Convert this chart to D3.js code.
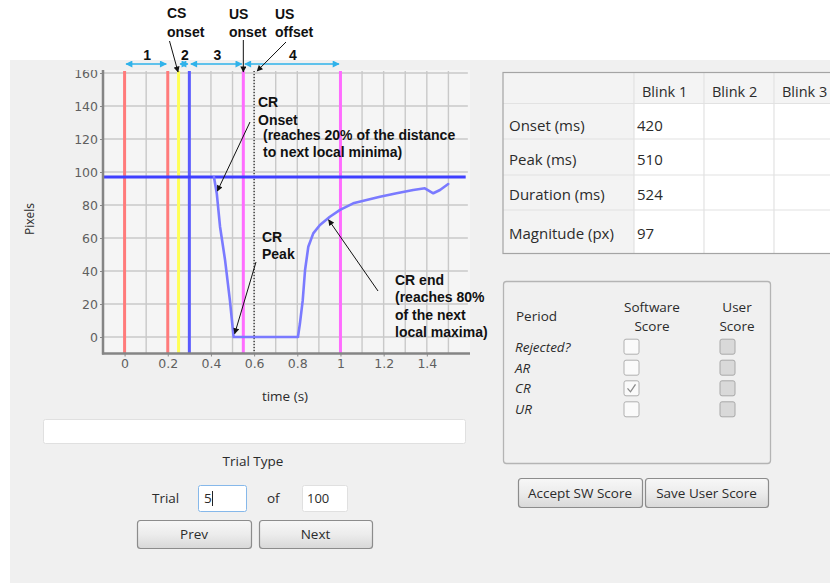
<!DOCTYPE html>
<html>
<head>
<meta charset="utf-8">
<script src="https://cdn.jsdelivr.net/npm/d3@7"></script>
<style>
  html, body { margin: 0; padding: 0; background: #ffffff; }
  svg { display: block; }
  .ui { font-family: "Open Sans", "Noto Sans", sans-serif; fill: #2b2b2b; }
  .note { font-family: "Liberation Sans", Arial, sans-serif; font-weight: bold; font-size: 14px; fill: #111; }
  .tick text { font-family: "DejaVu Sans", Verdana, sans-serif; font-size: 12.5px; fill: #5f5f5f; }
</style>
</head>
<body>
<svg id="app" width="830" height="583"></svg>
<script>
// ---- eyelid trace for trial 5 (time in s, eyelid position in pixels) ----
const traceTime   = [0.414, 0.427, 0.442, 0.465, 0.488, 0.505, 0.803, 0.812, 0.825, 0.836, 0.851, 0.874, 0.905, 0.951, 0.998, 1.059, 1.121, 1.183, 1.26, 1.337, 1.391, 1.43, 1.461, 1.499];
const tracePixels = [97, 87, 67, 47, 22, 0, 0, 8, 22, 40.6, 54.7, 62.8, 67.9, 72.9, 77, 81, 83, 85, 87.1, 89.1, 90.1, 87.1, 89.1, 92.7];

// ---- event markers (s) ----
const markerNames = ["trial start", "baseline end", "CS onset", "CS end", "US onset", "window end"];
const markerTimes = [0, 0.2, 0.25, 0.3, 0.55, 1.0];
const usOffsetTime = 0.6;

// ---- scoring periods (s) ----
const periodLabels = ["1", "2", "3", "4"];
const periodStart  = [0, 0.25, 0.3, 0.55];
const periodEnd    = [0.2, 0.3, 0.55, 1.0];

// ---- axes ----
const xTickValues = [0, 0.2, 0.4, 0.6, 0.8, 1, 1.2, 1.4];
const yTickValues = [0, 20, 40, 60, 80, 100, 120, 140, 160];

// ---- blink table ----
const blinkColumns = ["Blink 1", "Blink 2", "Blink 3"];
const measureNames = ["Onset (ms)", "Peak (ms)", "Duration (ms)", "Magnitude (px)"];
const blink1Values = [420, 510, 524, 97];

// ---- score panel ----
const scorePeriods  = ["Rejected?", "AR", "CR", "UR"];
const softwareScore = [false, false, true, false];

const trialNumber = 5;
const trialCount = 100;

// ====================================================================
const svg = d3.select("#app");

// window background
svg.append("rect").attr("x", 10).attr("y", 60).attr("width", 820).attr("height", 523).attr("fill", "#f0f0f0");

// arrow markers
const defs = svg.append("defs");
defs.append("marker").attr("id", "blackHead").attr("viewBox", "0 0 10 10")
  .attr("refX", 9).attr("refY", 5).attr("markerWidth", 7).attr("markerHeight", 6)
  .attr("markerUnits", "userSpaceOnUse").attr("orient", "auto")
  .append("path").attr("d", "M0,0 L10,5 L0,10 z").attr("fill", "#111");
defs.append("marker").attr("id", "cyanHead").attr("viewBox", "0 0 10 10")
  .attr("refX", 9).attr("refY", 5).attr("markerWidth", 8).attr("markerHeight", 7)
  .attr("markerUnits", "userSpaceOnUse").attr("orient", "auto-start-reverse")
  .append("path").attr("d", "M0,0 L10,5 L0,10 z").attr("fill", "#2eb2ea");
defs.append("clipPath").attr("id", "plotClip")
  .append("rect").attr("x", 0).attr("y", 69).attr("width", 480).attr("height", 320);
defs.append("clipPath").attr("id", "canvasClip")
  .append("rect").attr("x", 0).attr("y", 70).attr("width", 480).attr("height", 330);

// ---- scales ----
const x = d3.scaleLinear().domain([-0.1, 1.6]).range([103, 470]);
const y = d3.scaleLinear().domain([-10, 160]).range([353.5, 73]);

const plot = svg.append("g").attr("clip-path", "url(#plotClip)");
plot.append("rect").attr("x", x(-0.1)).attr("y", y(160) - 3)
  .attr("width", x(1.6) - x(-0.1)).attr("height", y(-10) - y(160) + 3).attr("fill", "#f5f5f5");

// grid
const gridX = d3.range(0, 16).map(i => i / 10);
plot.append("g").selectAll("line").data(gridX).join("line")
  .attr("x1", d => x(d)).attr("x2", d => x(d)).attr("y1", y(160) - 2).attr("y2", y(-10))
  .attr("stroke", "#c9c9c9").attr("stroke-width", 1.4);
plot.append("g").selectAll("line").data(yTickValues).join("line")
  .attr("x1", x(-0.1)).attr("x2", x(1.59)).attr("y1", d => y(d)).attr("y2", d => y(d))
  .attr("stroke", "#c9c9c9").attr("stroke-width", 1.4);

// event markers
const markerColor = {
  "trial start": "#ff7b7b", "baseline end": "#ff7b7b", "CS onset": "#ffff55",
  "CS end": "#5a5aff", "US onset": "#ff6cff", "window end": "#ff6cff"
};
plot.append("g").selectAll("line").data(markerTimes).join("line")
  .attr("x1", d => x(d)).attr("x2", d => x(d)).attr("y1", y(160) - 2).attr("y2", y(-10))
  .attr("stroke", (d, i) => markerColor[markerNames[i]]).attr("stroke-width", 3);

// US offset (dotted)
plot.append("line").attr("x1", x(usOffsetTime)).attr("x2", x(usOffsetTime))
  .attr("y1", y(160) - 2).attr("y2", y(-10))
  .attr("stroke", "#222").attr("stroke-width", 1.2).attr("stroke-dasharray", "1,2");

// baseline magnitude
plot.append("line").attr("x1", x(-0.1)).attr("x2", x(1.58))
  .attr("y1", y(blink1Values[3])).attr("y2", y(blink1Values[3]))
  .attr("stroke", "#3f3fff").attr("stroke-width", 3);

// trace
const trace = traceTime.map((t, i) => [t, tracePixels[i]]);
plot.append("path").datum(trace)
  .attr("d", d3.line().x(d => x(d[0])).y(d => y(d[1])))
  .attr("fill", "none").attr("stroke", "#7a7aff").attr("stroke-width", 2.6)
  .attr("stroke-linejoin", "round").attr("stroke-linecap", "round");

// axes
const yAxis = svg.append("g").attr("clip-path", "url(#canvasClip)")
  .append("g").attr("transform", `translate(${x(-0.1)},0)`)
  .call(d3.axisLeft(y).tickValues(yTickValues).tickSize(3).tickPadding(2).tickSizeOuter(0));
const xAxis = svg.append("g").attr("transform", `translate(0,${y(-10)})`)
  .call(d3.axisBottom(x).tickValues(xTickValues).tickFormat(d3.format("~g")).tickSize(3).tickPadding(3).tickSizeOuter(0));
[yAxis, xAxis].forEach(a => {
  a.select(".domain").remove();
  a.selectAll(".tick line").attr("stroke", "#8a8a8a");
});
svg.append("line").attr("x1", x(-0.1)).attr("x2", x(-0.1)).attr("y1", 70).attr("y2", y(-10) + 1)
  .attr("stroke", "#858585").attr("stroke-width", 2.5);
svg.append("line").attr("x1", x(-0.1) - 1).attr("x2", x(1.6)).attr("y1", y(-10)).attr("y2", y(-10))
  .attr("stroke", "#858585").attr("stroke-width", 2.5);

svg.append("text").attr("class", "ui").attr("x", 285).attr("y", 401)
  .attr("text-anchor", "middle").attr("font-size", 13.5).attr("fill", "#505050").text("time (s)");
svg.append("text").attr("class", "ui").attr("transform", "translate(34,219) rotate(-90)")
  .attr("text-anchor", "middle").attr("font-size", 12).attr("fill", "#505050").text("Pixels");

// ---- period arrows and labels ----
const periodY = 64;
svg.append("g").selectAll("line").data(periodLabels).join("line")
  .attr("x1", (d, i) => x(periodStart[i]) + 1.5).attr("x2", (d, i) => x(periodEnd[i]) - 1.5)
  .attr("y1", periodY).attr("y2", periodY)
  .attr("stroke", "#2eb2ea").attr("stroke-width", 1.6)
  .attr("marker-start", "url(#cyanHead)").attr("marker-end", "url(#cyanHead)");
svg.append("g").selectAll("text").data(periodLabels).join("text")
  .attr("class", "note")
  .attr("x", (d, i) => (x(periodStart[i]) + x(periodEnd[i])) / 2 + 1)
  .attr("y", 60).attr("text-anchor", "middle").text(d => d);

// ---- event labels ----
function note(lines, x0, y0, lh) {
  const t = svg.append("text").attr("class", "note");
  lines.forEach((s, i) => t.append("tspan").attr("x", x0).attr("y", y0 + i * lh).text(s));
}
function pointer(x1, y1, x2, y2) {
  svg.append("line").attr("x1", x1).attr("y1", y1).attr("x2", x2).attr("y2", y2)
    .attr("stroke", "#111").attr("stroke-width", 1).attr("marker-end", "url(#blackHead)");
}
note(["CS", "onset"], 167, 18, 19);
pointer(169.5, 41, x(markerTimes[2]) - 0.5, 72);
note(["US", "onset"], 229, 19, 18);
pointer(x(markerTimes[4]), 40, x(markerTimes[4]), 72);
note(["US", "offset"], 275, 19, 18);
pointer(286, 42, x(usOffsetTime) + 3, 71);

note(["CR", "Onset"], 258, 107, 18);
svg.append("text").attr("class", "note").selectAll("tspan")
  .data(["(reaches 20% of the distance", "to next local minima)"]).join("tspan")
  .attr("x", 263).attr("y", (d, i) => 140 + i * 17).text(d => d);
pointer(250, 122, x(0.43), y(88.5));

note(["CR", "Peak"], 262, 242, 17);
pointer(256, 262, x(0.51), y(2));

note(["CR end", "(reaches 80%", "of the next", "local maxima)"], 395, 285, 17.4);
pointer(378, 291, x(0.945), y(71));

// ---- blink table ----
const tbl = svg.append("g");
const colX = [503, 634, 704, 774, 844];
const rowY = [72.5, 103.5, 139, 175, 210, 253.5];
tbl.append("rect").attr("x", colX[0]).attr("y", rowY[0]).attr("width", 340).attr("height", rowY[5] - rowY[0])
  .attr("fill", "#ffffff");
// header row and row header column
tbl.append("rect").attr("x", colX[0]).attr("y", rowY[0]).attr("width", 340).attr("height", rowY[1] - rowY[0])
  .attr("fill", "#f4f4f4");
tbl.append("rect").attr("x", colX[0]).attr("y", rowY[0]).attr("width", colX[1] - colX[0]).attr("height", rowY[5] - rowY[0])
  .attr("fill", "#f3f3f3");
tbl.append("g").selectAll("line").data(rowY.slice(1, 5)).join("line")
  .attr("x1", colX[0]).attr("x2", 844).attr("y1", d => d).attr("y2", d => d)
  .attr("stroke", "#e2e2e2").attr("stroke-width", 1.2);
tbl.append("g").selectAll("line").data(colX.slice(1, 4)).join("line")
  .attr("x1", d => d).attr("x2", d => d).attr("y1", rowY[0]).attr("y2", rowY[5])
  .attr("stroke", "#e2e2e2").attr("stroke-width", 1.2);
tbl.append("rect").attr("x", colX[0]).attr("y", rowY[0]).attr("width", 340).attr("height", rowY[5] - rowY[0])
  .attr("fill", "none").attr("stroke", "#a4a4a4").attr("stroke-width", 1.2);
tbl.append("g").selectAll("text").data(blinkColumns).join("text")
  .attr("class", "ui").attr("font-size", 14.5)
  .attr("x", (d, i) => colX[i + 1] + 8).attr("y", 97).text(d => d);
const rowBase = [130.5, 164.5, 199.5, 238.5];
tbl.append("g").selectAll("text").data(measureNames).join("text")
  .attr("class", "ui").attr("font-size", 15)
  .attr("x", 509).attr("y", (d, i) => rowBase[i]).text(d => d);
tbl.append("g").selectAll("text").data(blink1Values).join("text")
  .attr("class", "ui").attr("font-size", 15)
  .attr("x", 637).attr("y", (d, i) => rowBase[i]).text(d => d);

// ---- score group ----
const grp = svg.append("g");
grp.append("rect").attr("x", 503.5).attr("y", 281.5).attr("width", 267).attr("height", 182)
  .attr("rx", 3).attr("fill", "none").attr("stroke", "#b4b4b4").attr("stroke-width", 1.3);
grp.append("text").attr("class", "ui").attr("font-size", 13.5).attr("x", 516).attr("y", 321).text("Period");
grp.append("text").attr("class", "ui").attr("font-size", 13.5).attr("text-anchor", "middle")
  .selectAll("tspan").data(["Software", "Score"]).join("tspan")
  .attr("x", 652).attr("y", (d, i) => 312 + i * 18.5).text(d => d);
grp.append("text").attr("class", "ui").attr("font-size", 13.5).attr("text-anchor", "middle")
  .selectAll("tspan").data(["User", "Score"]).join("tspan")
  .attr("x", 737).attr("y", (d, i) => 312 + i * 18.5).text(d => d);
const scoreY = [346.7, 367.7, 388.3, 409.3];
grp.append("g").selectAll("text").data(scorePeriods).join("text")
  .attr("class", "ui").attr("font-size", 13.5).attr("font-style", "italic")
  .attr("x", 515).attr("y", (d, i) => scoreY[i] + 5).text(d => d);
grp.append("g").selectAll("rect").data(softwareScore).join("rect")
  .attr("x", 624).attr("y", (d, i) => scoreY[i] - 7.5).attr("width", 15).attr("height", 15).attr("rx", 2)
  .attr("fill", "#fafafa").attr("stroke", "#b0b0b0");
grp.append("g").selectAll("path").data(softwareScore.map((v, i) => [v, i]).filter(d => d[0])).join("path")
  .attr("d", d => `M627.5,${scoreY[d[1]]} L630.5,${scoreY[d[1]] + 3.5} L635.5,${scoreY[d[1]] - 4}`)
  .attr("fill", "none").attr("stroke", "#8a8a8a").attr("stroke-width", 1.3);
grp.append("g").selectAll("rect").data(scorePeriods).join("rect")
  .attr("x", 720).attr("y", (d, i) => scoreY[i] - 7.5).attr("width", 15).attr("height", 15).attr("rx", 2)
  .attr("fill", "#d9d9d9").attr("stroke", "#a8a8a8");

// ---- buttons ----
function button(x0, y0, w, h, label) {
  const g = svg.append("g");
  g.append("rect").attr("x", x0 + 0.5).attr("y", y0 + 0.5).attr("width", w).attr("height", h).attr("rx", 3)
    .attr("fill", "url(#btnGrad)").attr("stroke", "#8c8c8c").attr("stroke-width", 1.2);
  g.append("text").attr("class", "ui").attr("font-size", 13.5).attr("text-anchor", "middle")
    .attr("x", x0 + w / 2).attr("y", y0 + h / 2 + 5).text(label);
}
const grad = defs.append("linearGradient").attr("id", "btnGrad").attr("x1", 0).attr("x2", 0).attr("y1", 0).attr("y2", 1);
grad.append("stop").attr("offset", "0%").attr("stop-color", "#f7f7f7");
grad.append("stop").attr("offset", "50%").attr("stop-color", "#ececec");
grad.append("stop").attr("offset", "100%").attr("stop-color", "#d8d8d8");

button(518, 478, 124, 29, "Accept SW Score");
button(645, 478, 123, 29, "Save User Score");

// ---- trial navigation ----
svg.append("rect").attr("x", 43.5).attr("y", 419.5).attr("width", 422).attr("height", 24).attr("rx", 2)
  .attr("fill", "#ffffff").attr("stroke", "#e0e0e0");
svg.append("text").attr("class", "ui").attr("font-size", 13.5).attr("text-anchor", "middle")
  .attr("x", 253).attr("y", 466).text("Trial Type");
svg.append("text").attr("class", "ui").attr("font-size", 13.5).attr("x", 152).attr("y", 503).text("Trial");
svg.append("rect").attr("x", 198.5).attr("y", 485.5).attr("width", 48).attr("height", 26).attr("rx", 2)
  .attr("fill", "#ffffff").attr("stroke", "#86b8ea");
svg.append("text").attr("class", "ui").attr("font-size", 13.5).attr("x", 204).attr("y", 503).text(trialNumber);
svg.append("line").attr("x1", 212.5).attr("x2", 212.5).attr("y1", 491).attr("y2", 506).attr("stroke", "#222");
svg.append("text").attr("class", "ui").attr("font-size", 13.5).attr("x", 267).attr("y", 503).text("of");
svg.append("rect").attr("x", 302.5).attr("y", 485.5).attr("width", 45).attr("height", 26).attr("rx", 2)
  .attr("fill", "#ffffff").attr("stroke", "#e0e0e0");
svg.append("text").attr("class", "ui").attr("font-size", 13).attr("x", 307).attr("y", 503).text(trialCount);
button(137, 520, 114, 28, "Prev");
button(259, 520, 113, 28, "Next");
</script>
</body>
</html>
